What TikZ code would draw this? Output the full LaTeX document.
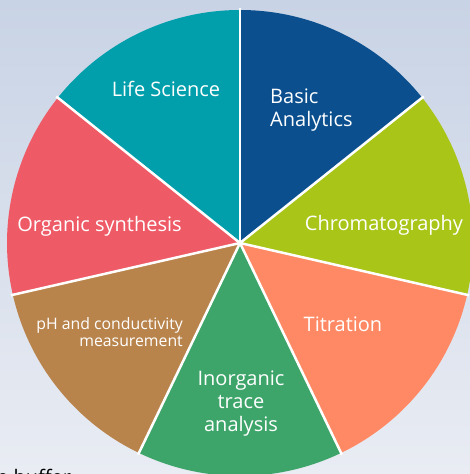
\documentclass[tikz,border=0pt]{standalone}
\usepackage{fontspec}
\setsansfont{Open Sans}
\definecolor{bgtop}{RGB}{200,211,229}
\definecolor{bgbottom}{RGB}{233,236,243}
\definecolor{lifesci}{RGB}{0,159,171}
\definecolor{basicblue}{RGB}{11,79,142}
\definecolor{chromlime}{RGB}{169,197,23}
\definecolor{titrsalmon}{RGB}{255,137,100}
\definecolor{inorggreen}{RGB}{62,165,106}
\definecolor{phbrown}{RGB}{185,132,76}
\definecolor{orgred}{RGB}{238,90,102}
\tikzset{
  backdrop/.style={top color=bgtop, bottom color=bgbottom, draw=none},
  gap/.style={line width=2.5pt, draw=white, line cap=butt},
  sectorlabel/.style={font=\sffamily\fontsize{20}{22.8}\selectfont, text=white, inner sep=0pt},
  smalllabel/.style={font=\sffamily\fontsize{15.8}{17}\selectfont, text=white, inner sep=0pt},
  cuttext/.style={font=\sffamily\fontsize{20}{24}\selectfont, text=black, inner sep=0pt},
}

\begin{document}
\begin{tikzpicture}[x=1pt, y=1pt]
\useasboundingbox (0,0) rectangle (470,474);
\clip (0,0) rectangle (470,474);
\fill[backdrop] (0,0) rectangle (470,474);
\coordinate (c) at (240,231);
% slices, clockwise from the top
\fill[basicblue] (c) -- ++(90:233pt) arc[start angle=90, end angle=38.571, radius=233pt] -- cycle;
\fill[chromlime] (c) -- ++(38.571:233pt) arc[start angle=38.571, end angle=-12.857, radius=233pt] -- cycle;
\fill[titrsalmon] (c) -- ++(-12.857:233pt) arc[start angle=-12.857, end angle=-64.286, radius=233pt] -- cycle;
\fill[inorggreen] (c) -- ++(-64.286:233pt) arc[start angle=-64.286, end angle=-115.714, radius=233pt] -- cycle;
\fill[phbrown] (c) -- ++(-115.714:233pt) arc[start angle=-115.714, end angle=-167.143, radius=233pt] -- cycle;
\fill[orgred] (c) -- ++(-167.143:233pt) arc[start angle=-167.143, end angle=-218.571, radius=233pt] -- cycle;
\fill[lifesci] (c) -- ++(141.429:233pt) arc[start angle=141.429, end angle=90, radius=233pt] -- cycle;
% white gaps
\draw[gap] (c) -- ++(90:235pt);
\draw[gap] (c) -- ++(38.571:235pt);
\draw[gap] (c) -- ++(-12.857:235pt);
\draw[gap] (c) -- ++(-64.286:235pt);
\draw[gap] (c) -- ++(-115.714:235pt);
\draw[gap] (c) -- ++(-167.143:235pt);
\draw[gap] (c) -- ++(141.429:235pt);
% labels
\node[sectorlabel, anchor=base] (lifescience) at (166,377) {Life Science};
\node[sectorlabel, anchor=west, align=left] (basic) at (270,364.3) {Basic\\Analytics};
\node[sectorlabel, anchor=base] (chrom) at (384,243) {Chromatography};
\node[sectorlabel, anchor=base] (titration) at (343,142) {Titration};
\node[sectorlabel, anchor=center, align=center] (inorganic) at (241,70.4) {Inorganic\\trace\\analysis};
\node[smalllabel, anchor=east, align=right] (phcond) at (183,142.2) {pH and conductivity\\measurement};
\node[sectorlabel, anchor=base] (organic) at (99.5,242) {Organic synthesis};
\node[cuttext, anchor=base west] (buffer) at (-3,-10) {e buffer};
\end{tikzpicture}
\end{document}
